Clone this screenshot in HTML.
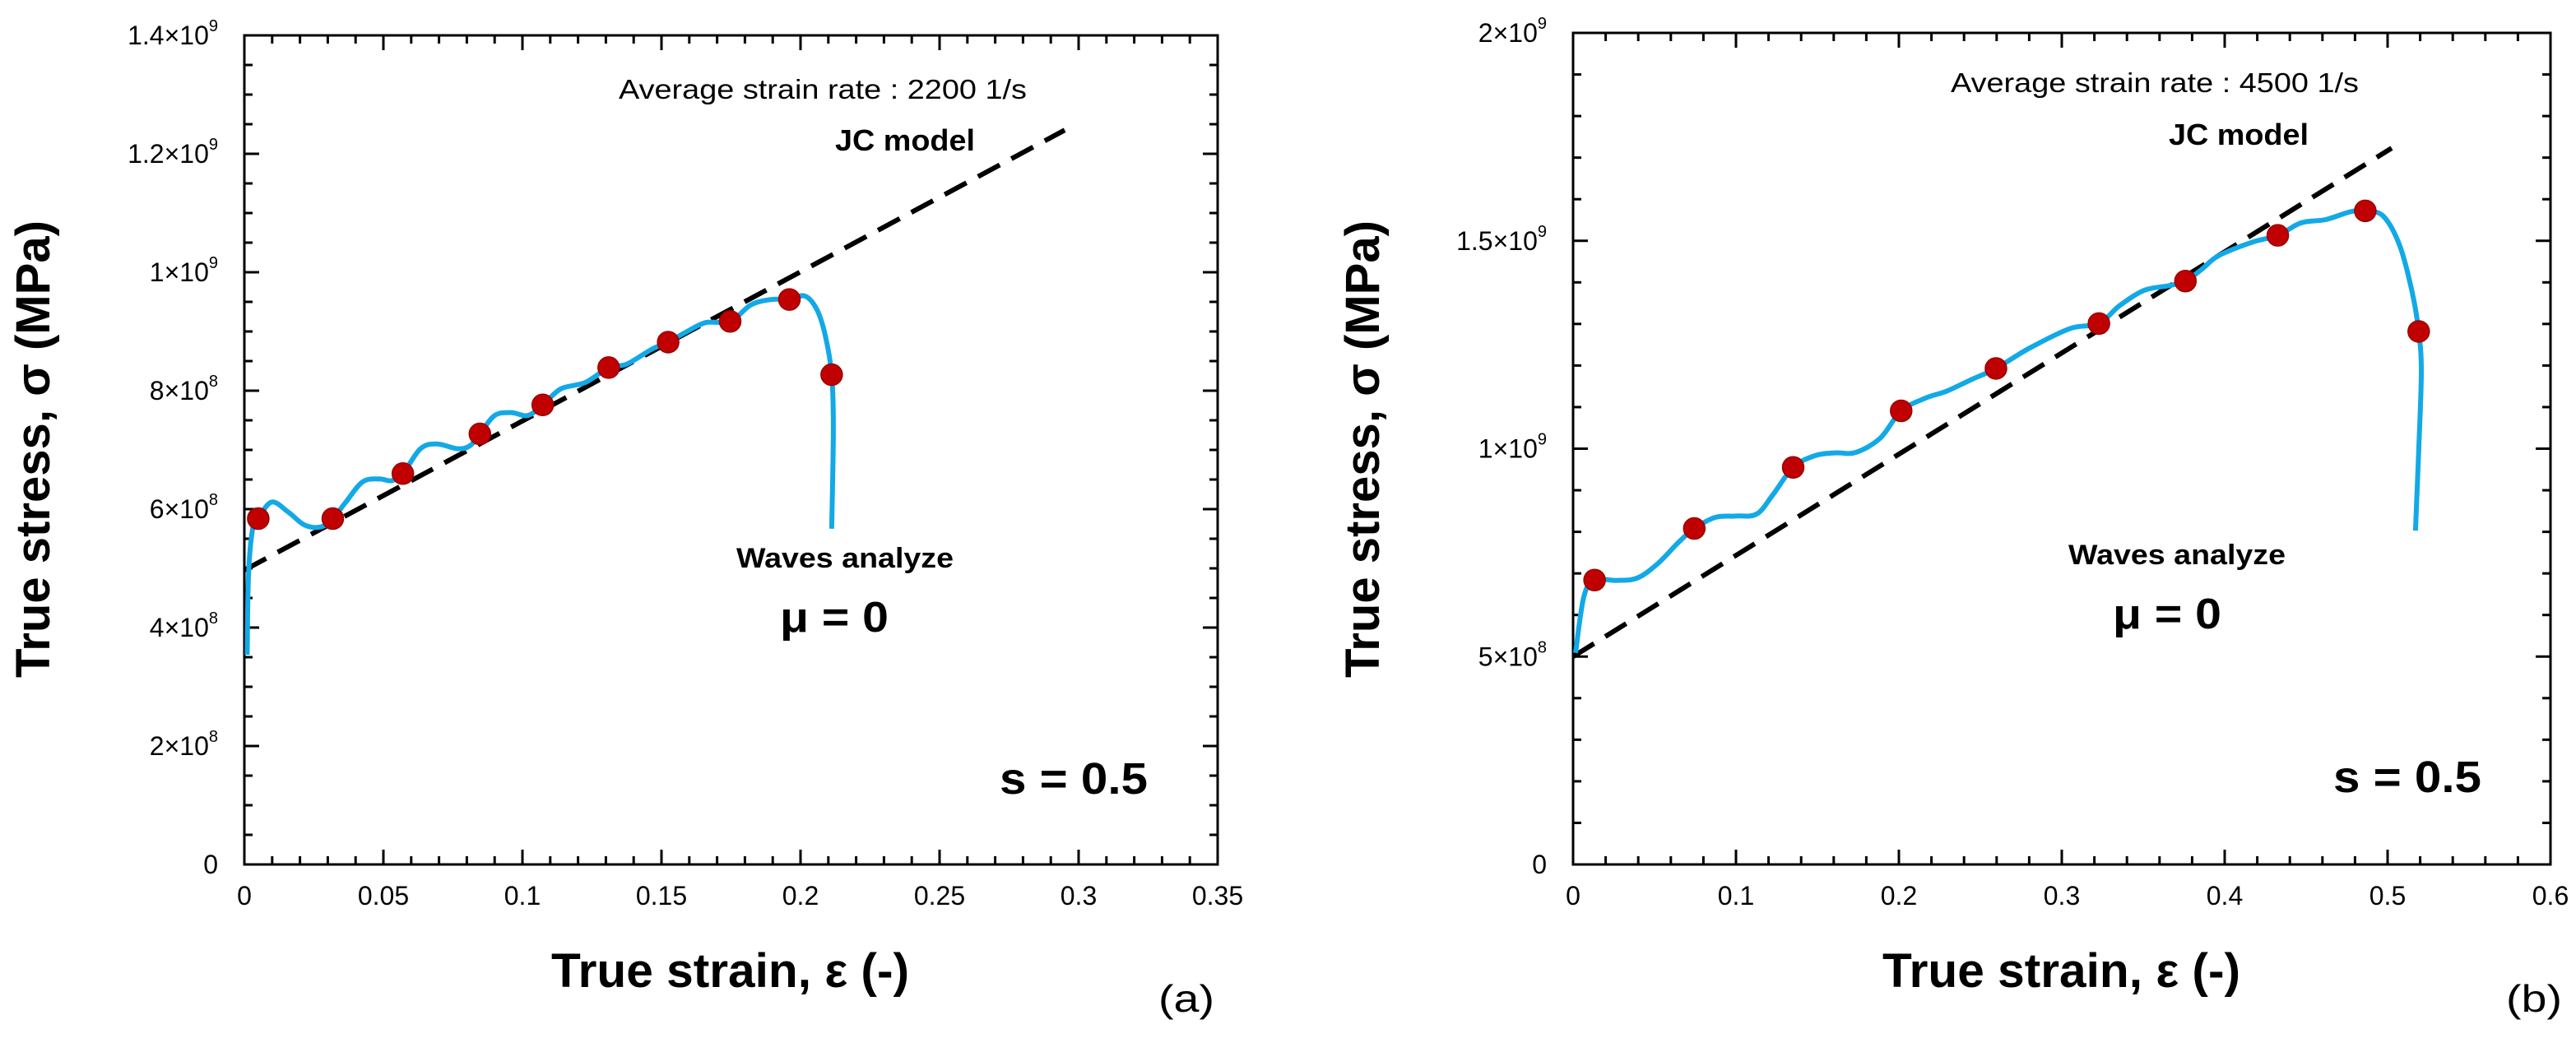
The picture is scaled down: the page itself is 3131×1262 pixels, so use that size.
<!DOCTYPE html>
<html><head><meta charset="utf-8"><style>
html,body{margin:0;padding:0;background:#fff;}
svg{display:block;font-family:"Liberation Sans",Arial,sans-serif;}
</style></head><body>
<svg id="fig" width="3131" height="1262" viewBox="0 0 3131 1262" xmlns="http://www.w3.org/2000/svg"></svg>
<script>
// ---- Panel (a) data ----
const aCurveX = [0.001,0.0015,0.003,0.005,0.0098,0.0158,0.0217,0.0276,0.0318,0.0365,0.0425,0.0484,0.0529,0.057,0.0633,0.0692,0.0767,0.0811,0.0847,0.0900,0.0960,0.1019,0.1073,0.1138,0.1227,0.131,0.1376,0.1465,0.1524,0.1585,0.1659,0.1747,0.1822,0.1896,0.196,0.2015,0.2059,0.2089,0.2112,0.2118,0.2112];
const aCurveY = [3.54e8,4.9e8,5.67e8,5.84e8,6.12e8,5.95e8,5.73e8,5.70e8,5.84e8,6.12e8,6.46e8,6.51e8,6.48e8,6.60e8,7.02e8,7.10e8,7.02e8,7.07e8,7.27e8,7.58e8,7.63e8,7.58e8,7.76e8,8.03e8,8.14e8,8.39e8,8.45e8,8.70e8,8.82e8,8.98e8,9.15e8,9.17e8,9.45e8,9.54e8,9.54e8,9.60e8,9.37e8,8.93e8,8.27e8,7.35e8,5.67e8];
const aMarkX = [0.005,0.0318,0.057,0.0847,0.1073,0.131,0.1524,0.1747,0.196,0.2112];
const aMarkY = [5.84e8,5.84e8,6.60e8,7.27e8,7.76e8,8.39e8,8.82e8,9.17e8,9.54e8,8.27e8];
const aJCx = [0,0.295];
const aJCy = [4.97e8,1.24e9];
const aXTicks = [0,0.05,0.1,0.15,0.2,0.25,0.3,0.35];
const aXLabels = ["0","0.05","0.1","0.15","0.2","0.25","0.3","0.35"];
const aYTicks = [0,2e8,4e8,6e8,8e8,1e9,1.2e9,1.4e9];
const aYMant = ["0","2×10","4×10","6×10","8×10","1×10","1.2×10","1.4×10"];
const aYExp = ["","8","8","8","8","9","9","9"];
// ---- Panel (b) data ----
const bCurveX = [0.0015,0.0066,0.0132,0.0268,0.0395,0.0521,0.0648,0.0744,0.0875,0.1002,0.1128,0.1230,0.1351,0.1483,0.1609,0.1736,0.1887,0.2014,0.2166,0.2292,0.2444,0.2596,0.2798,0.3051,0.3228,0.3355,0.3507,0.3658,0.3759,0.3861,0.3962,0.4164,0.4326,0.4468,0.4620,0.4772,0.4863,0.4974,0.5075,0.5151,0.5191,0.5207,0.5191,0.5171];
const bCurveY = [5.09e8,6.44e8,6.84e8,6.83e8,6.89e8,7.24e8,7.75e8,8.08e8,8.35e8,8.38e8,8.43e8,8.91e8,9.55e8,9.83e8,9.90e8,9.91e8,1.026e9,1.091e9,1.122e9,1.138e9,1.166e9,1.193e9,1.241e9,1.289e9,1.301e9,1.344e9,1.381e9,1.392e9,1.403e9,1.432e9,1.464e9,1.496e9,1.513e9,1.543e9,1.551e9,1.570e9,1.572e9,1.559e9,1.488e9,1.376e9,1.282e9,1.185e9,9.94e8,8.03e8];
const bMarkX = [0.0132,0.0744,0.1351,0.2014,0.2596,0.3228,0.3759,0.4326,0.4863,0.5191];
const bMarkY = [6.84e8,8.08e8,9.55e8,1.091e9,1.193e9,1.301e9,1.403e9,1.513e9,1.572e9,1.282e9];
const bJCx = [0,0.5025];
const bJCy = [5.0e8,1.723e9];
const bXTicks = [0,0.1,0.2,0.3,0.4,0.5,0.6];
const bXLabels = ["0","0.1","0.2","0.3","0.4","0.5","0.6"];
const bYTicks = [0,5e8,1e9,1.5e9,2e9];
const bYMant = ["0","5×10","1×10","1.5×10","2×10"];
const bYExp = ["","8","9","9","9"];

const NS="http://www.w3.org/2000/svg";
const fig=document.getElementById('fig');
function mk(tag,attrs,parent){const e=document.createElementNS(NS,tag);for(const k in attrs)e.setAttribute(k,attrs[k]);(parent||fig).appendChild(e);return e;}
function txt(parent,x,y,s,size,weight,anchor,len){const t=mk('text',{x:x,y:y,'font-size':size,'font-weight':weight,'text-anchor':anchor,fill:'#000'},parent);if(len){t.setAttribute('textLength',len);t.setAttribute('lengthAdjust','spacingAndGlyphs');}t.textContent=s;return t;}
function smooth(pts){let d='M'+pts[0][0].toFixed(1)+','+pts[0][1].toFixed(1);
  for(let i=0;i<pts.length-1;i++){const p0=pts[Math.max(0,i-1)],p1=pts[i],p2=pts[i+1],p3=pts[Math.min(pts.length-1,i+2)];
    const c1=[p1[0]+(p2[0]-p0[0])/6,p1[1]+(p2[1]-p0[1])/6],c2=[p2[0]-(p3[0]-p1[0])/6,p2[1]-(p3[1]-p1[1])/6];
    d+='C'+c1[0].toFixed(1)+','+c1[1].toFixed(1)+' '+c2[0].toFixed(1)+','+c2[1].toFixed(1)+' '+p2[0].toFixed(1)+','+p2[1].toFixed(1);}
  return d;}

function panel(o){
  const g=mk('g',{});
  
  
  const X=v=>o.x0+(v-o.xmin)/(o.xmax-o.xmin)*(o.x1-o.x0);
  const Y=v=>o.y0-(v-o.ymin)/(o.ymax-o.ymin)*(o.y0-o.y1);
  const tg=mk('g',{stroke:'#000','stroke-width':3},g);
  
  
  const nx=Math.round((o.xmax-o.xmin)/o.xminor);
  for(let i=0;i<=nx;i++){const v=o.xmin+i*o.xminor;const major=Math.abs(v/o.xmajor-Math.round(v/o.xmajor))<1e-6;const L=major?18:10;const px=X(v);
    mk('line',{x1:px,y1:o.y0,x2:px,y2:o.y0-L},tg);mk('line',{x1:px,y1:o.y1,x2:px,y2:o.y1+L},tg);}
  const ny=Math.round((o.ymax-o.ymin)/o.yminor);
  for(let i=0;i<=ny;i++){const v=o.ymin+i*o.yminor;const major=Math.abs(v/o.ymajor-Math.round(v/o.ymajor))<1e-6;const L=major?18:10;const py=Y(v);
    mk('line',{x1:o.x0,y1:py,x2:o.x0+L,y2:py},tg);mk('line',{x1:o.x1,y1:py,x2:o.x1-L,y2:py},tg);}
  const fr=mk('rect',{x:o.x0,y:o.y1,width:o.x1-o.x0,height:o.y0-o.y1,fill:'none',stroke:'#000','stroke-width':3},g);
  
  
  o.xt.forEach((v,i)=>{const t=txt(g,X(v),1100,o.xl[i],32,'normal','middle');
    
    });
  o.yt.forEach((v,i)=>{const t=mk('text',{x:o.ylx,y:Y(v)+11,'font-size':32,'text-anchor':'end',fill:'#000'},g);
    
    
    t.textContent=o.ym[i];
    if(o.ye[i]){const s=mk('tspan',{dy:-16,'font-size':20},t);s.textContent=o.ye[i];}});
  const jc=mk('line',{x1:X(o.jx[0]),y1:Y(o.jy[0]),x2:X(o.jx[1]),y2:Y(o.jy[1]),stroke:'#000','stroke-width':6,'stroke-dasharray':'30 16'},g);
  
  
  const pts=o.cx.map((v,i)=>[X(v),Y(o.cy[i])]);
  const c=mk('path',{d:smooth(pts),fill:'none',stroke:'#12a9e6','stroke-width':6,'stroke-linejoin':'round'},g);
  
  
  o.mx.forEach((v,i)=>{const m=mk('circle',{cx:X(v),cy:Y(o.my[i]),r:13,fill:'#c00000',stroke:'#9a0000','stroke-width':1.5},g);
    
    });
  const ann=[[o.avg,o.avgX,o.avgY,33,'normal',496,'strain-rate-label'],['JC model',o.jcX,o.jcY,36,'bold',170,'jc-model-label'],['Waves analyze',o.wX,o.wY,34,'bold',264,'waves-analyze-label'],['μ = 0',o.muX,o.muY,52,'bold',132,'mu-label'],['s = 0.5',o.sX,o.sY,54,'bold',180,'s-label'],[o.tag,o.tagX,1230,46,'normal',68,'panel-tag'],['True strain, ε (-)',o.xtX,1200,58,'bold',435,'x-axis-title']];
  ann.forEach(a=>{const t=txt(g,a[1],a[2],a[0],a[3],a[4],'start',a[5]);
    
    });
  const yt=mk('text',{x:0,y:0,'font-size':58,'font-weight':'bold','text-anchor':'middle',fill:'#000',transform:'translate('+o.ytX+',546) rotate(-90)',textLength:556,lengthAdjust:'spacingAndGlyphs'},g);
  
  
  yt.textContent='True stress, σ (MPa)';
}
panel({name:'panel-a',x0:297,x1:1480,y0:1051,y1:43,xmin:0,xmax:0.35,ymin:0,ymax:1.4e9,xminor:0.01,xmajor:0.05,yminor:5e7,ymajor:2e8,
  xt:aXTicks,xl:aXLabels,yt:aYTicks,ym:aYMant,ye:aYExp,ylx:265,cx:aCurveX,cy:aCurveY,mx:aMarkX,my:aMarkY,jx:aJCx,jy:aJCy,
  avg:'Average strain rate : 2200 1/s',avgX:752,avgY:120,jcX:1015,jcY:183,wX:895,wY:690,muX:948,muY:768,sX:1215,sY:965,tag:'(a)',tagX:1408,xtX:670,ytX:60});
panel({name:'panel-b',x0:1912,x1:3100,y0:1051,y1:40,xmin:0,xmax:0.6,ymin:0,ymax:2e9,xminor:0.02,xmajor:0.1,yminor:1e8,ymajor:5e8,
  xt:bXTicks,xl:bXLabels,yt:bYTicks,ym:bYMant,ye:bYExp,ylx:1880,cx:bCurveX,cy:bCurveY,mx:bMarkX,my:bMarkY,jx:bJCx,jy:bJCy,
  avg:'Average strain rate : 4500 1/s',avgX:2371,avgY:112,jcX:2636,jcY:176,wX:2514,wY:686,muX:2568,muY:764,sX:2836,sY:963,tag:'(b)',tagX:3046,xtX:2288,ytX:1676});
</script>
</body></html>
